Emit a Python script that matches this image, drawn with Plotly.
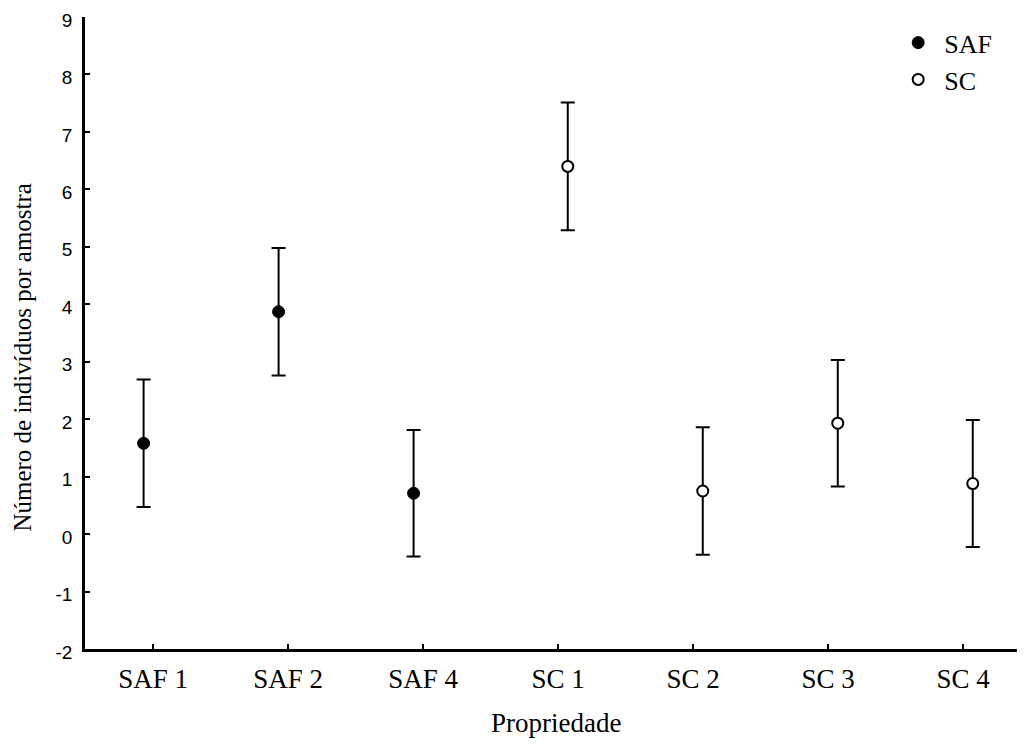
import plotly.graph_objects as go

categories = ["SAF 1", "SAF 2", "SAF 4", "SC 1", "SC 2", "SC 3", "SC 4"]

saf_cats = ["SAF 1", "SAF 2", "SAF 4"]
saf_mean = [1.58, 3.87, 0.71]
saf_err = [1.11, 1.11, 1.10]

sc_cats = ["SC 1", "SC 2", "SC 3", "SC 4"]
sc_mean = [6.40, 0.75, 1.93, 0.88]
sc_err = [1.11, 1.11, 1.10, 1.105]

y_ticks = list(range(-2, 10))
y_ticktext = [str(v) for v in y_ticks]  # plain hyphen minus as in the original

OFFSET = 0.071
pos = {c: i for i, c in enumerate(categories)}
saf_x = [pos[c] - OFFSET for c in saf_cats]
sc_x = [pos[c] + OFFSET for c in sc_cats]

fig = go.Figure()
fig.add_trace(go.Scatter(
    x=saf_x, y=saf_mean, mode="markers", name="SAF",
    marker=dict(symbol="circle", size=12, color="black", line=dict(color="black", width=1)),
    error_y=dict(type="data", array=saf_err, visible=True, color="black", thickness=2, width=7),
))
fig.add_trace(go.Scatter(
    x=sc_x, y=sc_mean, mode="markers", name="SC",
    marker=dict(symbol="circle", size=11, color="white", line=dict(color="black", width=2)),
    error_y=dict(type="data", array=sc_err, visible=True, color="black", thickness=2, width=7),
))

W, H = 1017, 736
L, T, B = 76.5, 8.5, 94.7
PW, PH = W - L, H - B - T
fig.update_layout(
    width=W, height=H,
    margin=dict(l=L, r=0, t=T, b=B, autoexpand=False),
    plot_bgcolor="white", paper_bgcolor="white",
    showlegend=True,
    legend=dict(x=0.8587, y=0.9965, xanchor="left", yanchor="top", itemwidth=42,
                font=dict(family="Liberation Serif", size=26, color="black"),
                tracegroupgap=0, bgcolor="rgba(0,0,0,0)"),
    xaxis=dict(range=[-0.505, 6.458], tickmode="array", tickvals=list(range(len(categories))),
               ticktext=categories, ticks="inside", ticklen=5, tickwidth=2, tickcolor="black",
               showline=True, linecolor="black", linewidth=2.5, showgrid=False, zeroline=False,
               tickfont=dict(family="Liberation Serif", size=27, color="black"),
               ticklabelstandoff=4, ticklabeloverflow="allow"),
    yaxis=dict(range=[-2, 9], tickmode="array", tickvals=y_ticks, ticktext=y_ticktext,
               ticks="inside", ticklen=5,
               tickwidth=2, tickcolor="black", showline=True, linecolor="black", linewidth=2.5,
               showgrid=False, zeroline=False,
               tickfont=dict(family="Liberation Sans", size=19, color="black"),
               ticklabelstandoff=6, ticklabelshift=3, ticklabeloverflow="allow"),
    annotations=[
        dict(text="Propriedade", xref="paper", yref="paper", x=(548 - L) / PW,
             y=-(715 - (H - B)) / PH, xanchor="center", yanchor="middle", showarrow=False,
             font=dict(family="Liberation Serif", size=27, color="black")),
        dict(text="Número de indivíduos por amostra", xref="paper", yref="paper",
             x=(14 - L) / PW, y=(((H - B) - 349) / PH), textangle=-90,
             xanchor="center", yanchor="middle", showarrow=False,
             font=dict(family="Liberation Serif", size=25, color="black")),
    ],
)

fig.write_html("out.html")
